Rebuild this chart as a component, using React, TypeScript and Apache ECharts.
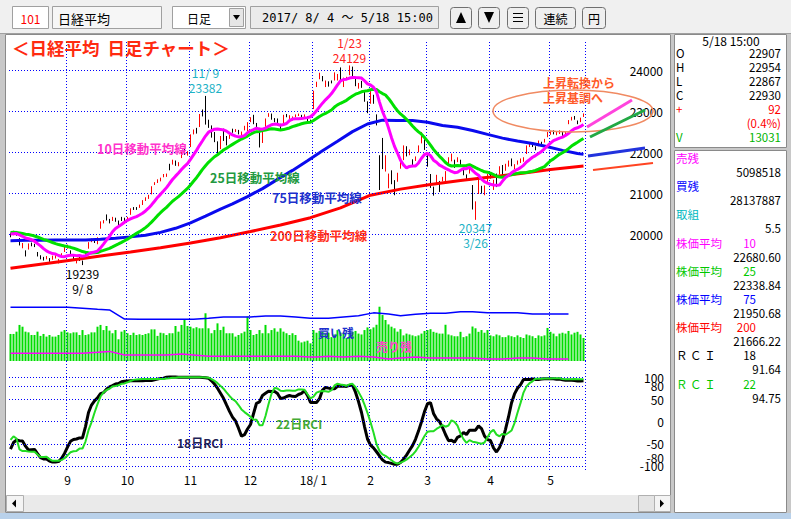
import React, { useEffect, useRef } from 'react';
import * as echarts from 'echarts';

const FONT = '"Noto Sans CJK JP", "Noto Sans", sans-serif';
const MONO = '"DejaVu Sans Mono", "Noto Sans CJK JP", monospace';

// ---------- categories (trading days) ----------
const monthNames = ['2017/8', '2017/9', '2017/10', '2017/11', '2017/12', '2018/1', '2018/2', '2018/3', '2018/4', '2018/5'];
const monthTradingDays = [
  [4, 7, 8, 9, 10, 14, 15, 16, 17, 18, 21, 22, 23, 24, 25, 28, 29, 30, 31],
  [1, 4, 5, 6, 7, 8, 11, 12, 13, 14, 15, 19, 20, 21, 22, 25, 26, 27, 28, 29],
  [2, 3, 4, 5, 6, 10, 11, 12, 13, 16, 17, 18, 19, 20, 23, 24, 25, 26, 27, 30, 31],
  [1, 2, 6, 7, 8, 9, 10, 13, 14, 15, 16, 17, 20, 21, 22, 24, 27, 28, 29, 30],
  [1, 4, 5, 6, 7, 8, 11, 12, 13, 14, 15, 18, 19, 20, 21, 22, 25, 26, 27, 28, 29],
  [4, 5, 9, 10, 11, 12, 15, 16, 17, 18, 19, 22, 23, 24, 25, 26, 29, 30, 31],
  [1, 2, 5, 6, 7, 8, 9, 13, 14, 15, 16, 19, 20, 21, 22, 23, 26, 27, 28],
  [1, 2, 5, 6, 7, 8, 9, 12, 13, 14, 15, 16, 19, 20, 22, 23, 26, 27, 28, 29, 30],
  [2, 3, 4, 5, 6, 9, 10, 11, 12, 13, 16, 17, 18, 19, 20, 23, 24, 25, 26, 27],
  [1, 2, 7, 8, 9, 10, 11, 14, 15, 16, 17, 18],
];
const monthTickLabels = ['', '9', '10', '11', '12', '18/ 1', '2', '3', '4', '5'];

// ---------- prices ----------
const preCloses = [20033, 20055, 20032, 20081, 20032, 19929, 20080, 20195, 20098, 20099, 20118, 20000, 20020, 20144, 20099, 19975, 19955, 20050, 20079, 19959, 19925, 19985, 20080, 20029];

const opens = [
  20010, 19990, 20060, 19890, 19690, 19560, 19640, 19760, 19710, 19550, 19450, 19430, 19420, 19390, 19390, 19440, 19310, 19430, 19580,
  19660, 19590, 19480, 19290, 19420, 19330, 19450, 19650, 19830, 19850, 19780, 20150, 20300, 20390, 20310, 20360, 20350, 20320, 20390, 20360,
  20380, 20480, 20650, 20640, 20660, 20750, 20850, 20910, 20980, 21230, 21300, 21350, 21440, 21430, 21700, 21740, 21780, 21720, 21890, 22050, 21980,
  22150, 22480, 22570, 22640, 22950, 23030, 22760, 22650, 22400, 22250, 22120, 22480, 22370, 22350, 22540, 22520, 22530, 22460, 22570, 22610,
  22790, 22900, 22700, 22570, 22280, 22620, 22880, 22930, 22820, 22820, 22640, 22740, 22900, 22860, 22840, 22900, 22910, 22900, 22880, 22870, 22770,
  23070, 23660, 23810, 23860, 23680, 23720, 23720, 23780, 23830, 23990, 23720, 23810, 23900, 24080, 23760, 23600, 23710, 23500, 23170,
  23210, 23400, 22900, 21850, 22010, 21620, 21300, 21480, 21270, 21370, 21650, 21850, 22100, 21950, 21800, 21860, 22040, 22250, 22300,
  21900, 21450, 21100, 21250, 21280, 21320, 21410, 21740, 21830, 21780, 21800, 21800, 21570, 21400, 21500, 21100, 20500, 21000, 21100, 21050, 21250,
  21470, 21200, 21360, 21480, 21660, 21580, 21730, 21810, 21620, 21740, 21760, 21800, 21980, 22170, 22210, 22100, 22170, 22230, 22260, 22400,
  22460, 22510, 22450, 22490, 22500, 22430, 22700, 22800, 22870, 22760, 22760, 22907,
];
const highs = [
  20030, 20080, 20075, 19900, 19780, 19600, 19770, 19790, 19760, 19560, 19480, 19440, 19460, 19410, 19470, 19480, 19390, 19530, 19700,
  19740, 19600, 19500, 19400, 19440, 19350, 19560, 19800, 19890, 19880, 19920, 20310, 20340, 20480, 20370, 20420, 20400, 20330, 20420, 20400,
  20420, 20630, 20660, 20660, 20720, 20830, 20900, 20960, 21170, 21270, 21340, 21380, 21470, 21480, 21720, 21820, 21800, 21760, 22010, 22080, 22030,
  22440, 22560, 22600, 22940, 23050, 23382, 22800, 22660, 22500, 22270, 22400, 22580, 22400, 22430, 22580, 22570, 22550, 22510, 22650, 22740,
  22860, 22920, 22720, 22600, 22510, 22830, 22960, 22950, 22840, 22830, 22700, 22920, 22940, 22910, 22880, 22930, 22950, 22920, 22930, 22880, 22800,
  23510, 23730, 23950, 23870, 23760, 23740, 23760, 23960, 23920, 24080, 23830, 23850, 24129, 24100, 23830, 23700, 23750, 23520, 23250,
  23500, 23410, 22930, 21930, 22353, 21930, 21480, 21560, 21320, 21500, 21790, 22170, 22150, 22070, 21830, 21900, 22170, 22500, 22320,
  21930, 21470, 21160, 21450, 21300, 21400, 21540, 21880, 21970, 21820, 21880, 21820, 21590, 21460, 21620, 21200, 20800, 21330, 21180, 21190, 21470,
  21510, 21330, 21480, 21660, 21690, 21720, 21800, 21850, 21710, 21800, 21850, 21880, 22170, 22250, 22230, 22150, 22290, 22260, 22330, 22500,
  22530, 22540, 22520, 22540, 22510, 22500, 22790, 22870, 22890, 22780, 22850, 22954,
];
const lows = [
  19920, 19970, 19960, 19720, 19650, 19450, 19620, 19700, 19680, 19450, 19380, 19350, 19380, 19320, 19370, 19400, 19280, 19420, 19560,
  19640, 19480, 19360, 19280, 19340, 19239, 19430, 19640, 19800, 19780, 19750, 20130, 20260, 20330, 20260, 20320, 20300, 20200, 20320, 20300,
  20340, 20470, 20590, 20590, 20640, 20710, 20810, 20860, 20970, 21200, 21250, 21290, 21390, 21400, 21560, 21700, 21670, 21660, 21860, 21940, 21920,
  22130, 22440, 22460, 22620, 22880, 22680, 22600, 22360, 22250, 21970, 22080, 22280, 22170, 22330, 22480, 22500, 22440, 22390, 22540, 22520,
  22740, 22690, 22560, 22120, 22230, 22600, 22870, 22800, 22740, 22660, 22530, 22720, 22860, 22820, 22780, 22860, 22890, 22860, 22860, 22760, 22720,
  23060, 23600, 23790, 23740, 23600, 23610, 23690, 23760, 23760, 23750, 23600, 23770, 23890, 23870, 23620, 23560, 23580, 23240, 22960,
  23190, 23190, 22660, 21078, 21590, 21530, 21120, 21220, 20950, 21280, 21600, 21810, 21900, 21930, 21640, 21790, 22000, 22220, 22060,
  21650, 21130, 20940, 21230, 21030, 21290, 21240, 21700, 21780, 21620, 21760, 21660, 21440, 21350, 21480, 20600, 20347, 20980, 20990, 20950, 21230,
  21360, 21080, 21150, 21460, 21440, 21550, 21650, 21660, 21590, 21700, 21740, 21770, 21960, 22130, 22130, 22050, 22150, 22160, 22240, 22370,
  22430, 22440, 22420, 22450, 22350, 22400, 22690, 22780, 22800, 22690, 22740, 22867,
];
const closes = [
  19952, 20055, 19996, 19738, 19729, 19537, 19753, 19729, 19702, 19470, 19393, 19383, 19434, 19353, 19452, 19449, 19362, 19506, 19646,
  19691, 19508, 19385, 19357, 19396, 19274, 19545, 19776, 19865, 19807, 19909, 20299, 20310, 20347, 20296, 20397, 20330, 20267, 20363, 20356,
  20400, 20614, 20626, 20628, 20690, 20823, 20881, 20954, 21155, 21255, 21336, 21363, 21448, 21457, 21696, 21805, 21707, 21739, 22008, 22011, 22011,
  22420, 22539, 22548, 22937, 22913, 22869, 22681, 22381, 22380, 22028, 22351, 22397, 22262, 22417, 22523, 22551, 22495, 22487, 22597, 22725,
  22819, 22707, 22622, 22177, 22498, 22811, 22938, 22866, 22758, 22694, 22553, 22901, 22868, 22892, 22866, 22903, 22939, 22892, 22912, 22784, 22765,
  23506, 23715, 23850, 23788, 23710, 23654, 23715, 23952, 23868, 23763, 23808, 23817, 24124, 23940, 23669, 23631, 23629, 23292, 23098,
  23486, 23274, 22682, 21610, 21645, 21891, 21383, 21245, 21154, 21464, 21720, 22150, 21925, 21970, 21737, 21893, 22154, 22390, 22068,
  21724, 21182, 21042, 21418, 21253, 21368, 21470, 21824, 21969, 21778, 21804, 21677, 21481, 21381, 21591, 20618, 20767, 21318, 21032, 21160, 21454,
  21388, 21292, 21320, 21645, 21568, 21678, 21795, 21688, 21661, 21779, 21836, 21848, 22159, 22191, 22163, 22089, 22278, 22216, 22320, 22468,
  22509, 22473, 22468, 22509, 22409, 22497, 22759, 22866, 22818, 22718, 22839, 22930,
];

// long moving averages at key days
const ma75Days = [0, 5, 10, 15, 20, 25, 30, 35, 40, 45, 50, 55, 60, 65, 70, 74, 79, 84, 89, 94, 99, 104, 109, 114, 119, 124, 129, 134, 139, 144, 149, 154, 159, 164, 169, 174, 179, 184, 189, 191];
const ma75Vals = [19836, 19845, 19850, 19852, 19852, 19855, 19870, 19895, 19930, 19970, 20040, 20140, 20275, 20440, 20610, 20738, 20917, 21112, 21339, 21558, 21792, 22041, 22271, 22508, 22694, 22789, 22780, 22780, 22739, 22658, 22616, 22535, 22440, 22349, 22276, 22219, 22136, 22049, 21972, 21951];
const ma200Days = [0, 10, 20, 30, 40, 50, 60, 70, 80, 90, 100, 110, 120, 130, 140, 150, 160, 170, 180, 191];
const ma200Vals = [19160, 19260, 19360, 19460, 19560, 19665, 19780, 19910, 20060, 20220, 20400, 20640, 20950, 21100, 21215, 21310, 21395, 21485, 21578, 21666];

// ---------- volume (100k shares) ----------
const volumes = [
  15300, 15300, 16600, 20400, 19400, 16600, 16200, 14700, 14700, 16600, 14200, 15300, 13800, 14700, 13800, 13800, 14700, 16600, 17500,
  16200, 15700, 16200, 16200, 14700, 17500, 14700, 15100, 16200, 16200, 19400, 20400, 17500, 19800, 17200, 15700, 17500, 12300, 16600, 17500,
  15700, 14700, 16000, 14700, 15100, 14700, 15300, 15700, 17900, 17900, 14200, 16000, 15700, 14700, 15700, 15700, 19800, 16600, 20400, 23200, 19800,
  19400, 18500, 19100, 18500, 18500, 27000, 18500, 15700, 17500, 21300, 17500, 19400, 15700, 15700, 15700, 13800, 14700, 15700, 16600, 25100,
  17500, 14700, 15300, 17500, 15700, 20400, 15700, 17500, 18500, 16600, 18500, 16600, 15700, 14700, 15700, 14700, 11500, 10500, 11000, 11500, 10000,
  17500, 16000, 17000, 16500, 15500, 16000, 13500, 15000, 17500, 16000, 15500, 13000, 16000, 16500, 17000, 15500, 15000, 17500, 19000,
  18000, 19000, 20500, 30700, 26000, 23200, 20700, 19400, 18500, 16600, 18000, 14500, 15500, 15000, 14500, 14000, 14500, 15500, 17000,
  17500, 18000, 16500, 16000, 15500, 15500, 20500, 15000, 14500, 14000, 14000, 16500, 13500, 14000, 15500, 19500, 18500, 16500, 17500, 16000, 17500,
  14500, 14000, 15000, 14500, 13500, 13500, 14500, 14000, 13500, 14500, 13500, 13000, 15000, 14500, 14000, 13000, 14500, 14000, 14500, 18700,
  16500, 15500, 14000, 15500, 16000, 15500, 17000, 15000, 16000, 16500, 15000, 13031,
];

// ---------- margin balances (weekly) ----------
const marginDays = [0, 9, 14, 19, 24, 29, 33, 38, 43, 47, 52, 57, 61, 66, 71, 75, 80, 85, 90, 95, 100, 102, 106, 111, 116, 121, 126, 130, 135, 140, 145, 150, 154, 159, 164, 169, 174, 179, 181, 186];
const marginBuy = [31550000, 31550000, 31550000, 31550000, 31100000, 30500000, 30200000, 25500000, 25400000, 25400000, 25400000, 25400000, 25400000, 25900000, 26600000, 26600000, 26600000, 27100000, 27100000, 26600000, 25900000, 25900000, 25900000, 26600000, 27200000, 28700000, 28100000, 27200000, 28000000, 28500000, 28500000, 29300000, 29300000, 28800000, 28800000, 28800000, 28100000, 28100000, 28100000, 28137887];
const marginSell = [8000000, 8000000, 8000000, 8000000, 8000000, 8500000, 9000000, 7150000, 7150000, 7150000, 7150000, 7660000, 7150000, 6500000, 6500000, 6500000, 6500000, 6500000, 6500000, 6500000, 6130000, 6130000, 6500000, 6130000, 6500000, 6130000, 5100000, 5600000, 6130000, 5600000, 5600000, 5600000, 5600000, 5100000, 5100000, 5600000, 5600000, 5100000, 5100000, 5098518];

// ---------- ticks ----------
const priceTicks = [20000, 21000, 22000, 23000, 24000];
const rciTicks = [-100, -80, -50, 0, 50, 80, 100];
const rciTicksMain = [-100, -50, 0, 50, 100];
const rciTicksExtra = [-80, 80];

// ---------- marked highs / lows ----------
const markDays = [65, 113, 24, 155];
const markKinds = ['high', 'high', 'low', 'low'];
const markColors = ['#1db2c6', '#ff2020', '#000000', '#1db2c6'];

// ---------- side panel texts ----------
const quoteRows = [
  ['O', '22907', '#000'], ['H', '22954', '#000'], ['L', '22867', '#000'], ['C', '22930', '#000'],
  ['+', '92', '#ff0000'], ['', '(0.4%)', '#ff0000'], ['V', '13031', '#00b400'],
];
const infoRows = [
  ['売残', '', '#ff00ff', '5098518'],
  ['買残', '', '#0000ff', '28137887'],
  ['取組', '', '#00b8c0', '5.5'],
  ['株価平均', '10', '#ff00ff', '22680.60'],
  ['株価平均', '25', '#00c800', '22338.84'],
  ['株価平均', '75', '#0000ff', '21950.68'],
  ['株価平均', '200', '#ff0000', '21666.22'],
  ['Ｒ Ｃ Ｉ', '18', '#000000', '91.64'],
  ['Ｒ Ｃ Ｉ', '22', '#00c800', '94.75'],
];

// ---------- derived ----------
const dates: string[] = [];
const monthStarts: number[] = [];
monthNames.forEach((m, k) => {
  monthTradingDays[k].forEach((d, j) => {
    if (j === 0 && k > 0) monthStarts.push(dates.length);
    dates.push(`${m}/${d}`);
  });
});
const monthStartSet = new Set(monthStarts);
const xLabelOf: Record<number, string> = {};
monthStarts.forEach((idx, k) => { xLabelOf[idx] = monthTickLabels[k + 1]; });

const allCloses = [...preCloses, ...closes];
const P = preCloses.length;

function movingAvg(n: number) {
  return closes.map((_, i) => {
    let s = 0;
    for (let k = i + P - n + 1; k <= i + P; k++) s += allCloses[k];
    return Math.round((s / n) * 100) / 100;
  });
}

function rci(n: number) {
  return closes.map((_, i) => {
    const end = i + P;
    const w = allCloses.slice(end - n + 1, end + 1);
    let d = 0;
    for (let j = 0; j < n; j++) {
      const dateRank = n - j;
      let higher = 0;
      let equal = 0;
      for (let k = 0; k < n; k++) {
        if (w[k] > w[j]) higher++;
        else if (w[k] === w[j]) equal++;
      }
      const priceRank = higher + (equal + 1) / 2;
      d += (dateRank - priceRank) ** 2;
    }
    return Math.round((1 - (6 * d) / (n * (n * n - 1))) * 10000) / 100;
  });
}

const pairs = (days: number[], vals: number[]) => days.map((d, k) => [d, vals[k]]);

function mdLabel(i: number) {
  const parts = dates[i].split('/');
  return `${Number(parts[1])}/${parts[2].padStart(2, ' ')}`;
}

// ---------- graphic helpers ----------
const txt = (text: string, x: number, y: number, fill: string, font: string, align = 'left', z = 100) => ({
  type: 'text', x, y, z, silent: true,
  style: { text, fill, font, textAlign: align, textVerticalAlign: 'middle', align, verticalAlign: 'middle' },
});
const rect = (x: number, y: number, w: number, h: number, fill: string, stroke?: string, r = 0, z = 1) => ({
  type: 'rect', z, silent: true,
  shape: { x, y, width: w, height: h, r },
  style: { fill, stroke: stroke || null, lineWidth: 1 },
});
const seg = (x1: number, y1: number, x2: number, y2: number, stroke: string, lineWidth: number, z = 100) => ({
  type: 'line', z, silent: true, shape: { x1, y1, x2, y2 }, style: { stroke, lineWidth },
});
const poly = (points: number[][], fill: string, z = 5) => ({ type: 'polygon', z, silent: true, shape: { points }, style: { fill } });

function buildGraphics() {
  const g: any[] = [];
  const f13 = `13px ${FONT}`;
  const f12 = `12px ${FONT}`;
  const fp = `11.5px ${FONT}`;
  // toolbar
  g.push(rect(0, 0, 791, 34, '#f0f0f0'));
  g.push(seg(0, 33.5, 791, 33.5, '#a0a0a0', 1, 2));
  g.push(rect(12.5, 6.5, 36, 22, '#ffffff', '#a0a0a0', 0, 2));
  g.push(txt('101', 30.5, 18, '#ff0000', f12, 'center'));
  g.push(rect(52.5, 6.5, 109, 22, '#f6f6f6', '#a0a0a0', 0, 2));
  g.push(txt('日経平均', 58, 18, '#000', f13));
  g.push(rect(172.5, 6.5, 73, 22, '#ffffff', '#a0a0a0', 0, 2));
  g.push(txt('日足', 187, 18, '#000', f12));
  g.push(rect(229.5, 8.5, 14, 18, '#e6e6e6', '#a0a0a0', 0, 3));
  g.push(poly([[233, 15], [240, 15], [236.5, 20]], '#000'));
  g.push(rect(250.5, 6.5, 188, 22, '#ebebeb', '#a0a0a0', 0, 2));
  g.push(txt('2017/ 8/ 4 ～ 5/18 15:00', 262, 18, '#000', `12px ${MONO}`));
  g.push(rect(450.5, 7.5, 21, 21, '#efefef', '#707070', 3, 2));
  g.push(poly([[456, 23], [466, 23], [461, 12]], '#000'));
  g.push(rect(478.5, 7.5, 21, 21, '#efefef', '#707070', 3, 2));
  g.push(poly([[484, 12], [494, 12], [489, 23]], '#000'));
  g.push(rect(507.5, 7.5, 21, 21, '#efefef', '#707070', 3, 2));
  g.push(seg(513, 13.5, 523, 13.5, '#000', 1, 5));
  g.push(seg(513, 17.5, 523, 17.5, '#000', 1, 5));
  g.push(seg(513, 21.5, 523, 21.5, '#000', 1, 5));
  g.push(rect(535.5, 7.5, 40, 21, '#efefef', '#707070', 3, 2));
  g.push(txt('連続', 555.5, 18, '#000', f12, 'center'));
  g.push(rect(582.5, 7.5, 23, 21, '#efefef', '#707070', 3, 2));
  g.push(txt('円', 594, 18, '#000', f12, 'center'));

  // frames
  g.push(rect(0, 34, 5, 485, '#c8c8c8'));
  g.push(rect(671, 34, 3, 485, '#c8c8c8'));
  g.push(rect(787, 34, 4, 485, '#c8c8c8'));
  g.push(rect(0, 513, 791, 6, '#b9d1ea'));
  g.push(rect(5.5, 34.5, 665, 478, 'none', '#8a8a8a', 0, 3));
  g.push(rect(674.5, 34.5, 112, 113, 'none', '#8a8a8a', 0, 3));
  g.push(rect(674.5, 150.5, 112, 362, 'none', '#8a8a8a', 0, 3));
  g.push(rect(674, 147.5, 113, 3, '#c8c8c8', undefined, 0, 2));

  // scrollbar
  g.push(rect(6, 495, 665, 17, '#eaeaea', undefined, 0, 2));
  g.push(rect(6.5, 495.5, 17, 16, '#f4f4f4', '#b0b0b0', 0, 3));
  g.push(poly([[12, 503.5], [16, 499.5], [16, 507.5]], '#000'));
  g.push(rect(638.5, 495.5, 16, 16, '#e4e4e4', '#b0b0b0', 0, 3));
  g.push(rect(654.5, 495.5, 16, 16, '#f4f4f4', '#b0b0b0', 0, 3));
  g.push(poly([[660, 499.5], [664, 503.5], [660, 507.5]], '#000'));

  // side panel
  g.push(txt('5/18 15:00', 731, 40, '#000', f12, 'center'));
  quoteRows.forEach((r, k) => {
    const y = 53 + k * 14;
    if (r[0]) g.push(txt(r[0], 676, y, r[2], fp));
    g.push(txt(r[1], 781, y, r[2], fp, 'right'));
  });
  infoRows.forEach((r, k) => {
    const y = 158 + k * 28.2;
    g.push(txt(r[0], 676, y, r[2], fp));
    if (r[1]) g.push(txt(r[1], 756, y, r[2], fp, 'right'));
    g.push(txt(r[3], 781, y + 14, '#000', fp, 'right'));
  });

  // annotations on the chart
  g.push(txt('＜日経平均  日足チャート＞', 12, 47, '#ff2a10', `bold 17.5px ${FONT}`));
  const b12 = `bold 12.5px ${FONT}`;
  g.push(txt('10日移動平均線', 97, 148, '#ff33cc', b12));
  g.push(txt('25日移動平均線', 210, 177, '#229940', b12));
  g.push(txt('75日移動平均線', 272, 197, '#2030cc', b12));
  g.push(txt('200日移動平均線', 270, 235, '#ff3020', b12));
  g.push(txt('上昇転換から', 543, 82, '#ff5a28', `bold 12px ${FONT}`));
  g.push(txt('上昇基調へ', 543, 97, '#ff5a28', `bold 12px ${FONT}`));
  g.push({ type: 'ellipse', z: 100, silent: true, shape: { cx: 573, cy: 111, rx: 80, ry: 21 }, style: { fill: 'none', stroke: '#f08a62', lineWidth: 1.5 } });
  g.push(seg(587, 127, 632, 100, '#ff44dd', 3));
  g.push(seg(590, 137, 645, 110, '#22a844', 3));
  g.push(seg(588, 156, 645, 148, '#2233dd', 3));
  g.push(seg(593, 170, 653, 163, '#ff4422', 2));
  g.push(txt('買い残', 318, 332, '#2030cc', `bold 12px ${FONT}`));
  g.push(txt('売り残', 376, 346, '#ff44cc', `bold 12px ${FONT}`));
  g.push(txt('22日RCI', 276, 423, '#44aa33', `bold 12px ${FONT}`));
  g.push(txt('18日RCI', 177, 442, '#222255', `bold 12px ${FONT}`));
  return g;
}

function buildOption() {
  const candleData = dates.map((_, i) => [opens[i], closes[i], lows[i], highs[i]]);
  const ma10 = movingAvg(10);
  const ma25 = movingAvg(25);
  const rci18 = rci(18);
  const rci22 = rci(22);
  const vLine = { color: '#0000ff', type: [1, 2], width: 1 };

  const xAxis = [0, 1, 2].map((g) => ({
    type: 'category',
    gridIndex: g,
    data: dates,
    boundaryGap: true,
    axisLine: { show: false },
    axisTick: { show: false },
    axisLabel: g === 2
      ? {
        show: true,
        interval: (i: number) => monthStartSet.has(i),
        formatter: (_v: string, i: number) => xLabelOf[i] || '',
        color: '#000', fontSize: 12, fontFamily: FONT, margin: 3,
      }
      : { show: false },
    splitLine: { show: true, interval: (i: number) => monthStartSet.has(i), lineStyle: vLine },
  }));

  const markData = markDays.map((d, k) => {
    const isHigh = markKinds[k] === 'high';
    const v = isHigh ? highs[d] : lows[d];
    return {
      coord: [dates[d], v],
      label: {
        show: true,
        position: isHigh ? 'top' : 'bottom',
        distance: 0,
        formatter: isHigh ? `${mdLabel(d)}\n${v}` : `${v}\n${mdLabel(d)}`,
        color: markColors[k],
        fontSize: 12,
        lineHeight: 15,
        fontFamily: FONT,
      },
    };
  });

  const rciAxis = (labels: number[]) => ({
    type: 'value', gridIndex: 2, position: 'right', min: -109, max: 136,
    axisLine: { show: false }, axisTick: { show: false }, splitLine: { show: false },
    axisLabel: {
      customValues: labels,
      formatter: (v: number) => (labels.includes(v) ? String(v) : ''),
      align: 'right', margin: 79, color: '#000', fontSize: 12, fontFamily: FONT,
      showMinLabel: true, showMaxLabel: true, hideOverlap: false,
    },
  });

  return {
    animation: false,
    backgroundColor: '#ffffff',
    textStyle: { fontFamily: FONT },
    grid: [
      { left: 9, top: 42, width: 576, height: 258 },
      { left: 9, top: 300, width: 576, height: 61 },
      { left: 9, top: 361, width: 576, height: 109 },
    ],
    xAxis,
    yAxis: [
      {
        type: 'value', gridIndex: 0, position: 'right', min: 18384, max: 24703,
        axisLine: { show: false }, axisTick: { show: false }, splitLine: { show: false },
        axisLabel: {
          customValues: priceTicks,
          formatter: (v: number) => (priceTicks.includes(v) ? String(v) : ''),
          align: 'right', margin: 78, color: '#000', fontSize: 12, fontFamily: FONT,
          showMinLabel: true, showMaxLabel: true,
        },
      },
      { type: 'value', gridIndex: 1, min: 0, max: 34500, show: false, splitLine: { show: false } },
      { type: 'value', gridIndex: 1, min: 4080000, max: 35280000, show: false, splitLine: { show: false } },
      rciAxis(rciTicksMain),
      rciAxis(rciTicksExtra),
    ],
    series: [
      {
        type: 'candlestick', name: '日経平均', xAxisIndex: 0, yAxisIndex: 0, data: candleData,
        barWidth: 1, z: 3,
        itemStyle: { color: '#ff0000', color0: '#000000', borderColor: '#ff0000', borderColor0: '#000000', borderWidth: 1 },
        markLine: {
          silent: true, symbol: ['none', 'none'], label: { show: false },
          lineStyle: vLine, data: priceTicks.map((v) => ({ yAxis: v })),
        },
        markPoint: { symbol: 'circle', symbolSize: 1, itemStyle: { color: 'rgba(0,0,0,0)' }, data: markData },
      },
      {
        type: 'line', name: '200日', xAxisIndex: 0, yAxisIndex: 0, data: pairs(ma200Days, ma200Vals),
        showSymbol: false, symbol: 'none', connectNulls: true, z: 4,
        lineStyle: { color: '#ff0000', width: 3 },
      },
      {
        type: 'line', name: '75日', xAxisIndex: 0, yAxisIndex: 0, data: pairs(ma75Days, ma75Vals),
        showSymbol: false, symbol: 'none', connectNulls: true, z: 5,
        lineStyle: { color: '#0a0aee', width: 3 },
      },
      {
        type: 'line', name: '25日', xAxisIndex: 0, yAxisIndex: 0, data: ma25,
        showSymbol: false, symbol: 'none', z: 6,
        lineStyle: { color: '#00e000', width: 3 },
      },
      {
        type: 'line', name: '10日', xAxisIndex: 0, yAxisIndex: 0, data: ma10,
        showSymbol: false, symbol: 'none', z: 7,
        lineStyle: { color: '#ff00ff', width: 3 },
      },
      {
        type: 'bar', name: '出来高', xAxisIndex: 1, yAxisIndex: 1, data: volumes, barWidth: 2, z: 2,
        itemStyle: { color: '#00dd00' },
      },
      {
        type: 'line', name: '買い残', xAxisIndex: 1, yAxisIndex: 2, data: pairs(marginDays, marginBuy),
        showSymbol: false, symbol: 'none', z: 4, lineStyle: { color: '#0000ff', width: 1.5 },
      },
      {
        type: 'line', name: '売り残', xAxisIndex: 1, yAxisIndex: 2, data: pairs(marginDays, marginSell),
        showSymbol: false, symbol: 'none', z: 4, lineStyle: { color: '#ff00ff', width: 1.5 },
      },
      {
        type: 'line', name: '18日RCI', xAxisIndex: 2, yAxisIndex: 3, data: rci18,
        showSymbol: false, symbol: 'none', z: 4, lineStyle: { color: '#000000', width: 3 },
        markLine: {
          silent: true, symbol: ['none', 'none'], label: { show: false },
          lineStyle: vLine, data: rciTicks.map((v) => ({ yAxis: v })),
        },
      },
      {
        type: 'line', name: '22日RCI', xAxisIndex: 2, yAxisIndex: 3, data: rci22,
        showSymbol: false, symbol: 'none', z: 5, lineStyle: { color: '#22dd22', width: 2 },
      },
    ],
    graphic: { elements: buildGraphics() },
  };
}

export default function App() {
  const ref = useRef<HTMLDivElement>(null);
  useEffect(() => {
    if (!ref.current) return undefined;
    const chart = echarts.init(ref.current, null, { renderer: 'svg' });
    chart.setOption(buildOption() as any);
    return () => chart.dispose();
  }, []);
  return <div ref={ref} style={{ position: 'fixed', left: 0, top: 0, width: 791, height: 519 }} />;
}
